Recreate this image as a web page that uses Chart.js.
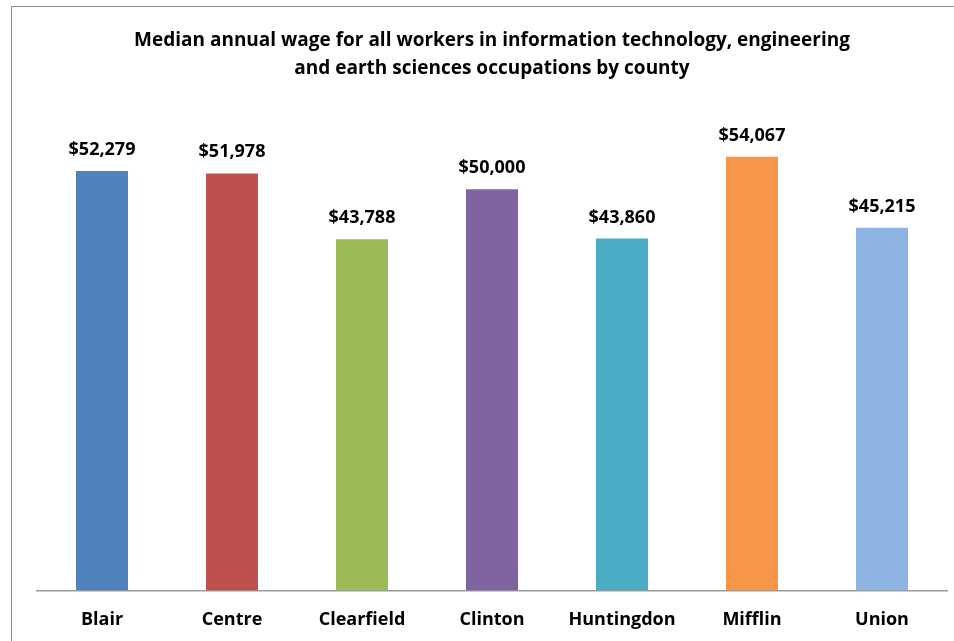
<!DOCTYPE html>
<html>
<head>
<meta charset="utf-8">
<script src="https://cdn.jsdelivr.net/npm/chart.js@4"></script>
<style>
  html, body { margin: 0; padding: 0; background: #fff; overflow: hidden; }
  #frame { position: absolute; left: 11px; top: 6px; width: 1000px; height: 1000px; border: 1.5px solid #8c8c8c; }
  #wrap { position: absolute; left: 0; top: 0; width: 954px; height: 641px; }
</style>
</head>
<body>
<div id="frame"></div>
<div id="wrap"><canvas id="chart"></canvas></div>
<script>
// datos del grafico
const counties = ['Blair', 'Centre', 'Clearfield', 'Clinton', 'Huntingdon', 'Mifflin', 'Union'];
const wages = [52279, 51978, 43788, 50000, 43860, 54067, 45215];
const barColors = ['#4F81BD', '#C0504D', '#9BBB59', '#8064A2', '#4BACC6', '#F79646', '#8DB3E2'];
const titleLines = [
  'Median annual wage for all workers in information technology, engineering',
  'and earth sciences occupations by county'
];

const FONT = '"Open Sans", sans-serif';

// etiquetas de valor encima de cada barra
const valueLabels = {
  id: 'valueLabels',
  afterDatasetsDraw(chart) {
    const ctx = chart.ctx;
    const meta = chart.getDatasetMeta(0);
    ctx.save();
    ctx.font = 'bold 18px ' + FONT;
    ctx.fillStyle = '#000';
    ctx.textAlign = 'center';
    ctx.textBaseline = 'alphabetic';
    meta.data.forEach((bar, i) => {
      const txt = '$' + wages[i].toLocaleString('en-US');
      ctx.fillText(txt, bar.x, bar.y - 16);
    });
    ctx.restore();
  }
};

new Chart(document.getElementById('chart'), {
  type: 'bar',
  data: {
    labels: counties,
    datasets: [{
      data: wages,
      backgroundColor: barColors,
      borderWidth: 0,
      categoryPercentage: 1,
      barPercentage: 0.4
    }]
  },
  options: {
    responsive: true,
    maintainAspectRatio: false,
    animation: false,
    layout: { padding: { left: 37, right: 7, top: 0, bottom: -9 } },
    plugins: {
      legend: { display: false },
      tooltip: { enabled: false },
      title: {
        display: true,
        text: titleLines,
        color: '#000',
        font: { family: FONT, size: 19, weight: 'bold', lineHeight: 1.45 },
        padding: { top: 27, bottom: 27 }
      }
    },
    scales: {
      y: {
        display: false,
        min: 0,
        max: 60000
      },
      x: {
        grid: { display: false, drawTicks: false },
        border: { display: true, color: '#9a9a9a', width: 1.5 },
        ticks: {
          color: '#000',
          padding: 19,
          font: { family: FONT, size: 18, weight: 'bold' }
        }
      }
    }
  },
  plugins: [valueLabels]
});
</script>
</body>
</html>
